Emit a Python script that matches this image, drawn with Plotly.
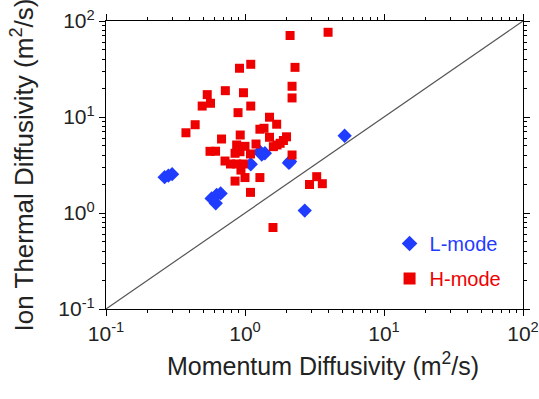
import plotly.graph_objects as go

# H-mode data (momentum diffusivity, ion thermal diffusivity), m^2/s
h_x = [2.11, 3.96, 1.10, 0.913, 2.29, 0.722, 0.975, 2.18, 2.18, 0.535, 0.565, 0.492,
       1.10, 0.891, 1.50, 1.69, 0.438, 0.376, 1.28, 1.37, 0.924, 0.678, 1.50, 1.99,
       1.89, 1.79, 1.70, 1.60, 1.20, 0.560, 0.614, 0.871, 1.00, 0.848, 0.921, 1.095,
       2.18, 0.718, 0.786, 0.871, 0.972, 0.935, 0.848, 1.00, 1.28, 1.095, 2.91, 3.28,
       3.60, 1.59]
h_y = [70.6, 76.3, 35.4, 32.2, 32.9, 18.8, 17.9, 20.9, 15.8, 17.1, 13.9, 13.0,
       13.0, 11.1, 9.95, 8.41, 8.31, 6.85, 7.46, 7.63, 6.49, 5.90, 6.15, 6.22,
       5.69, 5.32, 5.11, 4.91, 5.23, 4.39, 4.40, 5.11, 4.95, 4.19, 4.35, 4.12,
       4.02, 3.48, 3.24, 3.24, 3.24, 2.80, 2.15, 2.34, 2.34, 1.64, 1.98, 2.39,
       2.02, 0.706]

# L-mode data
l_x = [0.264, 0.281, 0.299, 0.575, 0.625, 0.668, 0.616, 1.10, 1.28, 1.39, 1.32,
       2.07, 2.11, 2.69, 5.21]
l_y = [2.36, 2.45, 2.54, 1.42, 1.54, 1.60, 1.26, 3.22, 4.35, 4.19, 4.07,
       3.32, 3.44, 1.06, 6.38]

# diagonal reference line
diag = [0.1, 100]

tick_vals = [0.1, 1, 10, 100]
tick_text = ["10<sup>-1</sup>", "10<sup>0</sup>", "10<sup>1</sup>", "10<sup>2</sup>"]

BLUE = "#1f3cff"
RED = "#ee0000"
FONT = "Liberation Sans, Arial, sans-serif"

fig = go.Figure()
fig.add_trace(go.Scatter(x=diag, y=diag, mode="lines",
                         line=dict(color="#555555", width=1.2),
                         showlegend=False, hoverinfo="skip"))
fig.add_trace(go.Scatter(x=l_x, y=l_y, mode="markers", legendgroup="L",
                         name="<span style='color:%s'>L-mode</span>" % BLUE,
                         marker=dict(symbol="diamond", size=11, color=BLUE)))
fig.add_trace(go.Scatter(x=h_x, y=h_y, mode="markers", legendgroup="H",
                         name="<span style='color:%s'>H-mode</span>" % RED,
                         marker=dict(symbol="square", size=9, color=RED)))

minor_vals = [m * 10.0 ** e for e in (-1, 0, 1) for m in range(2, 10)]

axis_common = dict(
    type="log", automargin=False,
    tickvals=tick_vals, ticktext=tick_text,
    ticks="outside", ticklen=6, tickwidth=1, tickcolor="black",
    showline=True, linecolor="black", linewidth=1.2, mirror="allticks",
    showgrid=False, zeroline=False,
    tickfont=dict(family=FONT, size=21, color="#222222"),
    minor=dict(tickvals=minor_vals, ticks="outside", ticklen=3,
               tickcolor="black", showgrid=False),
)

fig.update_xaxes(range=[-1, 2], **axis_common)
fig.update_yaxes(range=[-1, 2], **axis_common,
                 title=dict(text="Ion Thermal Diffusivity (m<sup>2</sup>/s)",
                            font=dict(family=FONT, size=26, color="#222222"),
                            standoff=17))

fig.add_annotation(text="Momentum Diffusivity (m<sup>2</sup>/s)",
                   xref="paper", yref="paper", x=0.52, y=-0.19,
                   xanchor="center", yanchor="middle", showarrow=False,
                   font=dict(family=FONT, size=25, color="#222222"))

fig.update_layout(
    width=539, height=399,
    margin=dict(l=106, r=16, t=21, b=90),
    plot_bgcolor="white", paper_bgcolor="white",
    font=dict(family=FONT),
    legend=dict(x=0.68, y=0.295, xanchor="left", yanchor="top",
                bgcolor="rgba(0,0,0,0)",
                font=dict(family=FONT, size=20),
                itemsizing="constant", tracegroupgap=6),
    showlegend=True,
)

fig.write_html("out.html")
